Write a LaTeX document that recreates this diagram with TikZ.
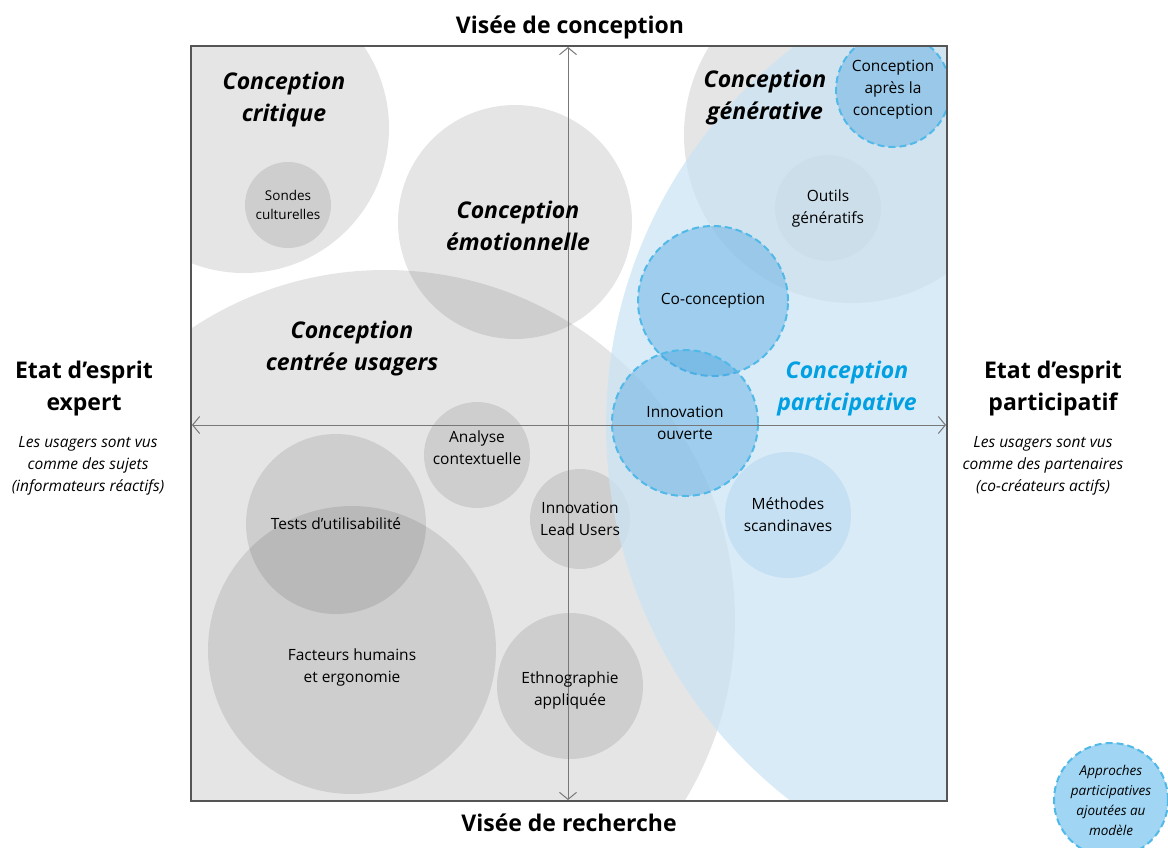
\documentclass[tikz,border=0pt]{standalone}
\usepackage{fontspec}
\setmainfont{Open Sans}
\usetikzlibrary{arrows.meta}
\definecolor{partfill}{RGB}{205,228,245}
\definecolor{partline}{RGB}{80,185,232}
\definecolor{partdark}{RGB}{70,162,222}
\definecolor{parttext}{RGB}{0,160,227}
\definecolor{methfill}{RGB}{185,218,242}
\definecolor{legfill}{RGB}{160,213,243}
\definecolor{axisline}{RGB}{120,120,120}
\definecolor{framecol}{RGB}{85,85,85}

\begin{document}
\begin{tikzpicture}[x=1pt,y=-1pt,
  bubble/.style={shape=circle,fill=black,fill opacity=0.1,inner sep=0pt},
  zone/.style={shape=circle,fill=partfill,fill opacity=0.75,inner sep=0pt},
  scand/.style={shape=circle,fill=methfill,fill opacity=0.6,text opacity=1,inner sep=0pt,small},
  dashbub/.style={shape=circle,draw=partline,line width=2pt,dash pattern=on 7pt off 4pt,fill=partdark,fill opacity=0.4,text opacity=1,inner sep=0pt,small},
  big/.style={font=\fontsize{23}{32}\selectfont\bfseries\itshape,align=center},
  head/.style={font=\fontsize{23}{32}\selectfont\bfseries,align=center},
  small/.style={font=\fontsize{15.5}{22}\selectfont,align=center},
  note/.style={font=\fontsize{15.5}{22}\selectfont\itshape,align=center},
  axis/.style={axisline,line width=1pt,<->,>={Straight Barb[length=7pt,width=17pt]}}]
\useasboundingbox (0,0) rectangle (1168,847);

\begin{scope}
\clip (191,46) rectangle (947,801);
% approches existantes
\node[bubble,minimum size=290](critique) at (244,128) {};
\node[bubble,minimum size=234](emotion) at (515,222) {};
\node[bubble,minimum size=700](centree) at (385,620) {};
\node[bubble,minimum size=336](generative) at (852,135) {};
\node[bubble,minimum size=86](sondes) at (288,205) {};
\node[bubble,minimum size=180](tests) at (336,524) {};
\node[bubble,minimum size=288](facteurs) at (352,650) {};
\node[bubble,minimum size=106](analyse) at (477,455) {};
\node[bubble,minimum size=100](leadusers) at (580,519) {};
\node[bubble,minimum size=146](ethno) at (570,686) {};
\node[bubble,minimum size=106](outils) at (828,208) {};
% conception participative
\node[zone,minimum size=950](participative) at (1081,425) {};
\node[scand,minimum size=126](methodes) at (788,515) {Méthodes\\scandinaves};
\node[dashbub,minimum size=150](coconception) at (713,301) {Co-conception};
\node[dashbub,minimum size=146](ouverte) at (685,423) {Innovation\\ouverte};
\node[dashbub,minimum size=114](apres) at (893,90) {Conception\\après la\\conception};
\end{scope}

\draw[framecol,line width=1.5pt] (191,46) rectangle (947,801);
\coordinate (haut) at (568,47);
\coordinate (bas) at (568,800);
\coordinate (gauche) at (192,425);
\coordinate (droite) at (946,425);
\draw[axis] (haut) -- (bas);
\draw[axis] (gauche) -- (droite);

% etiquettes des cercles
\node[small,font=\fontsize{13.5}{19}\selectfont] at (sondes) {Sondes\\culturelles};
\node[small] at (tests) {Tests d’utilisabilité};
\node[small] at ([yshift=-17]facteurs) {Facteurs humains\\et ergonomie};
\node[small] at ([yshift=7]analyse) {Analyse\\contextuelle};
\node[small] at (leadusers) {Innovation\\Lead Users};
\node[small] at ([yshift=-4]ethno) {Ethnographie\\appliquée};
\node[small] at (outils) {Outils\\génératifs};

% titres des zones
\node[big](tcritique) at (284,100) {Conception\\critique};
\node[big](temotion) at (518,226) {Conception\\émotionnelle};
\node[big](tcentree) at (352,349) {Conception\\centrée usagers};
\node[big](tgenerative) at (765,98) {Conception\\générative};
\node[big,text=parttext](tparticipative) at (847,389) {Conception\\participative};

% axes
\node[head](conception) at (570,27) {Visée de conception};
\node[head](recherche) at (569,823) {Visée de recherche};
\node[head](expert) at (84,389) {Etat d’esprit\\expert};
\node[note](sujets) at (88,466) {Les usagers sont vus\\comme des sujets\\(informateurs réactifs)};
\node[head](partic) at (1053,389) {Etat d’esprit\\participatif};
\node[note](partenaires) at (1043,466) {Les usagers sont vus\\comme des partenaires\\(co-créateurs actifs)};

% legende
\node[dashbub,fill=legfill,fill opacity=1,minimum size=114,font=\fontsize{13.5}{20}\selectfont\itshape](legende) at (1111,800) {Approches\\participatives\\ajoutées au\\modèle};
\end{tikzpicture}
\end{document}
